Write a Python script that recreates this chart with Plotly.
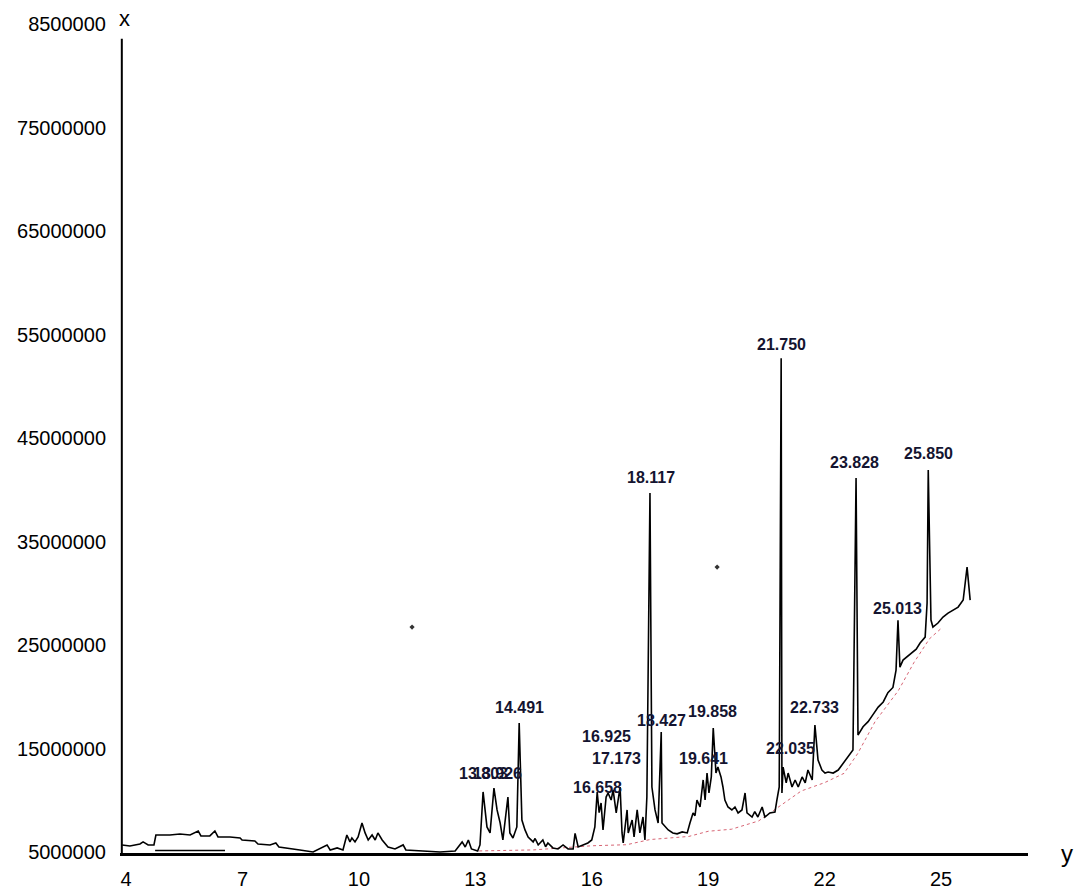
import plotly.graph_objects as go

# ---- data (retention axis units, intensity in millions) ----
trace_x = [3.90, 4.10, 4.36, 4.44, 4.57, 4.72, 4.77, 5.13, 5.39, 5.65, 5.86, 5.93, 6.16, 6.29, 6.37, 6.68,
           6.94, 6.99, 7.32, 7.40, 7.71, 7.86, 7.94, 8.23, 8.48,
           8.82, 9.18, 9.26, 9.44, 9.59, 9.69, 9.77, 9.82, 9.90, 9.98, 10.08, 10.16, 10.24, 10.34, 10.42,
           10.49, 10.60, 10.67, 10.75, 10.93, 11.14, 11.21, 11.58, 12.09, 12.48, 12.66, 12.74, 12.82, 12.90,
           13.06, 13.12,
           13.20, 13.30, 13.38, 13.48, 13.56, 13.64, 13.71, 13.84, 13.89, 13.97, 14.07, 14.13, 14.20, 14.28,
           14.36, 14.49, 14.54, 14.62, 14.74, 14.81, 14.87, 15.00, 15.13, 15.26, 15.39, 15.52, 15.57, 15.65,
           15.78, 15.90, 16.00, 16.08, 16.14, 16.19, 16.24, 16.29, 16.37, 16.42, 16.50, 16.55, 16.63, 16.68,
           16.73, 16.78, 16.81, 16.91, 16.94, 17.04, 17.09, 17.17, 17.24, 17.32, 17.37, 17.42, 17.50, 17.55,
           17.63, 17.71, 17.79, 17.81, 17.89, 17.97, 18.09, 18.20, 18.33, 18.46, 18.53, 18.61, 18.66, 18.71,
           18.79, 18.87, 18.92, 18.97, 19.02, 19.08, 19.13, 19.20, 19.25, 19.33, 19.38, 19.43, 19.51, 19.61,
           19.69, 19.77, 19.87, 19.95, 20.00, 20.13, 20.20, 20.28, 20.39, 20.46, 20.59, 20.72, 20.77, 20.83,
           20.88, 20.90, 20.93, 21.01, 21.06, 21.16, 21.24, 21.32, 21.42, 21.50, 21.57, 21.68, 21.75, 21.83,
           21.93, 22.01, 22.09, 22.22, 22.35, 22.48, 22.60, 22.73, 22.81, 22.86, 22.99, 23.12, 23.25, 23.38,
           23.51, 23.63, 23.76, 23.84, 23.89, 23.94, 24.02, 24.12, 24.25, 24.36, 24.46, 24.59, 24.64, 24.67,
           24.74, 24.79, 24.92, 25.05, 25.18, 25.31, 25.44, 25.57, 25.67, 25.75]
trace_y = [5.68, 5.58, 5.77, 5.97, 5.68, 5.68, 6.64, 6.64, 6.74, 6.64, 7.03, 6.55, 6.55, 7.03, 6.45, 6.45,
           6.35, 6.16, 6.06, 5.77, 5.68, 5.87, 5.48, 5.29, 5.19,
           5.00, 5.68, 5.19, 5.39, 5.19, 6.64, 5.97, 6.35, 5.97, 6.45, 7.80, 6.84, 6.16, 6.64, 6.16,
           6.84, 6.16, 5.87, 5.48, 5.29, 5.68, 5.19, 5.10, 5.00, 5.10, 5.97, 5.48, 6.16, 5.29,
           5.10, 5.68,
           10.80, 7.42, 6.84, 11.18, 9.06, 7.80, 6.16, 10.31, 6.84, 6.35, 7.42, 17.46, 8.09, 7.13,
           6.45, 5.97, 6.30, 5.68, 6.16, 5.50, 5.87, 5.39, 5.29, 5.68, 5.29, 5.29, 6.80, 5.48,
           5.68, 5.87, 6.16, 7.42, 10.80, 8.80, 9.73, 7.13, 10.31, 10.70, 10.02, 11.00, 8.77, 10.31,
           11.28, 6.84, 5.87, 9.06, 6.84, 8.09, 6.45, 9.06, 6.84, 8.38, 6.16, 10.31, 39.69, 11.28,
           9.06, 7.80, 16.59, 7.80, 7.42, 7.13, 6.84, 6.75, 6.94, 6.84, 7.80, 8.77, 8.50, 10.02,
           9.35, 11.96, 10.02, 12.63, 10.70, 12.25, 16.98, 12.63, 13.21, 12.25, 11.28, 10.02, 9.35, 9.06,
           9.35, 8.77, 9.06, 10.70, 8.77, 8.38, 8.90, 8.38, 9.35, 8.38, 8.77, 8.86, 10.02, 11.28,
           52.73, 10.70, 13.21, 11.67, 12.63, 11.28, 11.96, 11.28, 12.25, 11.67, 12.92, 11.96, 17.27, 13.89,
           12.92, 12.63, 12.73, 12.63, 12.92, 13.60, 14.18, 14.85, 41.14, 16.30, 17.10, 17.60, 18.30, 19.00,
           19.50, 20.40, 20.90, 22.58, 27.40, 22.87, 23.55, 23.84, 24.23, 24.60, 25.19, 25.77, 29.06, 41.91,
           27.42, 26.74, 27.13, 27.71, 28.09, 28.38, 28.67, 29.35, 32.54, 29.35]

baseline_x = [13.10, 14.50, 16.00, 16.90, 17.50, 18.50, 19.00, 19.60, 20.30, 20.90, 21.40, 22.00, 22.50,
              22.85, 23.30, 23.90, 24.30, 24.70, 25.00]
baseline_y = [5.10, 5.20, 5.60, 5.70, 6.20, 6.50, 7.00, 7.20, 8.00, 9.60, 10.90, 11.70, 12.60,
              14.50, 17.60, 20.60, 23.30, 25.60, 26.60]

early_base_x = [4.75, 6.55]
early_base_y = [5.15, 5.15]

speck_x = [11.37, 19.23]
speck_y = [26.74, 32.54]

peak_labels = ["13.803", "13.926", "14.491", "16.658", "16.925", "17.173", "18.117", "18.427",
               "19.641", "19.858", "21.750", "22.035", "22.733", "23.828", "25.013", "25.850"]
label_x = [13.20, 13.56, 14.13, 16.16, 16.39, 16.65, 17.53, 17.79,
           18.89, 19.10, 20.88, 21.11, 21.75, 22.78, 23.87, 24.67]
label_y = [12.63, 12.63, 19.01, 11.28, 16.21, 14.08, 41.23, 17.66,
           14.08, 18.53, 54.08, 15.05, 19.01, 42.68, 28.57, 43.55]

x_ticks = [4, 7, 10, 13, 16, 19, 22, 25]
y_ticks = [5, 15, 25, 35, 45, 55, 65, 75, 85]
y_ticktext = ["5000000", "15000000", "25000000", "35000000", "45000000",
              "55000000", "65000000", "75000000", "8500000"]

fig = go.Figure()
fig.add_trace(go.Scatter(x=baseline_x, y=baseline_y, mode="lines",
                         line=dict(color="rgba(200,50,70,0.75)", width=1, dash="dot"), hoverinfo="skip"))
fig.add_trace(go.Scatter(x=early_base_x, y=early_base_y, mode="lines",
                         line=dict(color="black", width=1.5), hoverinfo="skip"))
fig.add_trace(go.Scatter(x=trace_x, y=trace_y, mode="lines",
                         line=dict(color="black", width=1.6)))
fig.add_trace(go.Scatter(x=speck_x, y=speck_y, mode="markers",
                         marker=dict(color="#333333", size=4, symbol="diamond")))

label_font = dict(family="Liberation Sans Narrow, Arial Narrow, Liberation Sans, Arial, sans-serif",
                  size=16, color="#141430", weight="bold")
for t, lx, ly in zip(peak_labels, label_x, label_y):
    fig.add_annotation(x=lx, y=ly, text=t, showarrow=False, font=label_font,
                       xanchor="center", yanchor="middle")

tick_font = dict(family="Liberation Sans, Arial, sans-serif", size=20, color="black")

fig.add_annotation(xref="paper", yref="paper", x=0.0055, y=0.995, text="x", showarrow=False,
                   font=dict(family="Liberation Sans, Arial, sans-serif", size=22, color="black"),
                   xanchor="center", yanchor="middle")
fig.add_annotation(xref="paper", yref="paper", x=1.043, y=0.0, text="y", showarrow=False,
                   font=dict(family="Liberation Sans, Arial, sans-serif", size=24, color="black"),
                   xanchor="center", yanchor="middle")

# vertical axis line (stops below the top tick label)
fig.add_shape(type="line", xref="paper", yref="y", x0=0.002, x1=0.002, y0=4.9, y1=83.6,
              line=dict(color="black", width=2))

fig.update_layout(
    width=1078, height=892,
    margin=dict(l=120, r=50, t=14, b=39, autoexpand=False),
    paper_bgcolor="white", plot_bgcolor="white",
    showlegend=False,
    xaxis=dict(range=[3.845, 27.24], tickvals=x_ticks, ticktext=[str(v) for v in x_ticks],
               showgrid=False, zeroline=False, showline=True, linecolor="black", linewidth=2.5,
               ticks="outside", ticklen=6, tickcolor="rgba(0,0,0,0)", tickfont=tick_font),
    yaxis=dict(range=[4.9, 86.0], tickvals=y_ticks, ticktext=y_ticktext,
               showgrid=False, zeroline=False, showline=False,
               ticks="outside", ticklen=9, tickcolor="rgba(0,0,0,0)", tickfont=tick_font),
)

fig.write_html("out.html", config={"displayModeBar": False},
               post_script="document.body.style.margin='0';document.body.style.overflow='hidden';")
